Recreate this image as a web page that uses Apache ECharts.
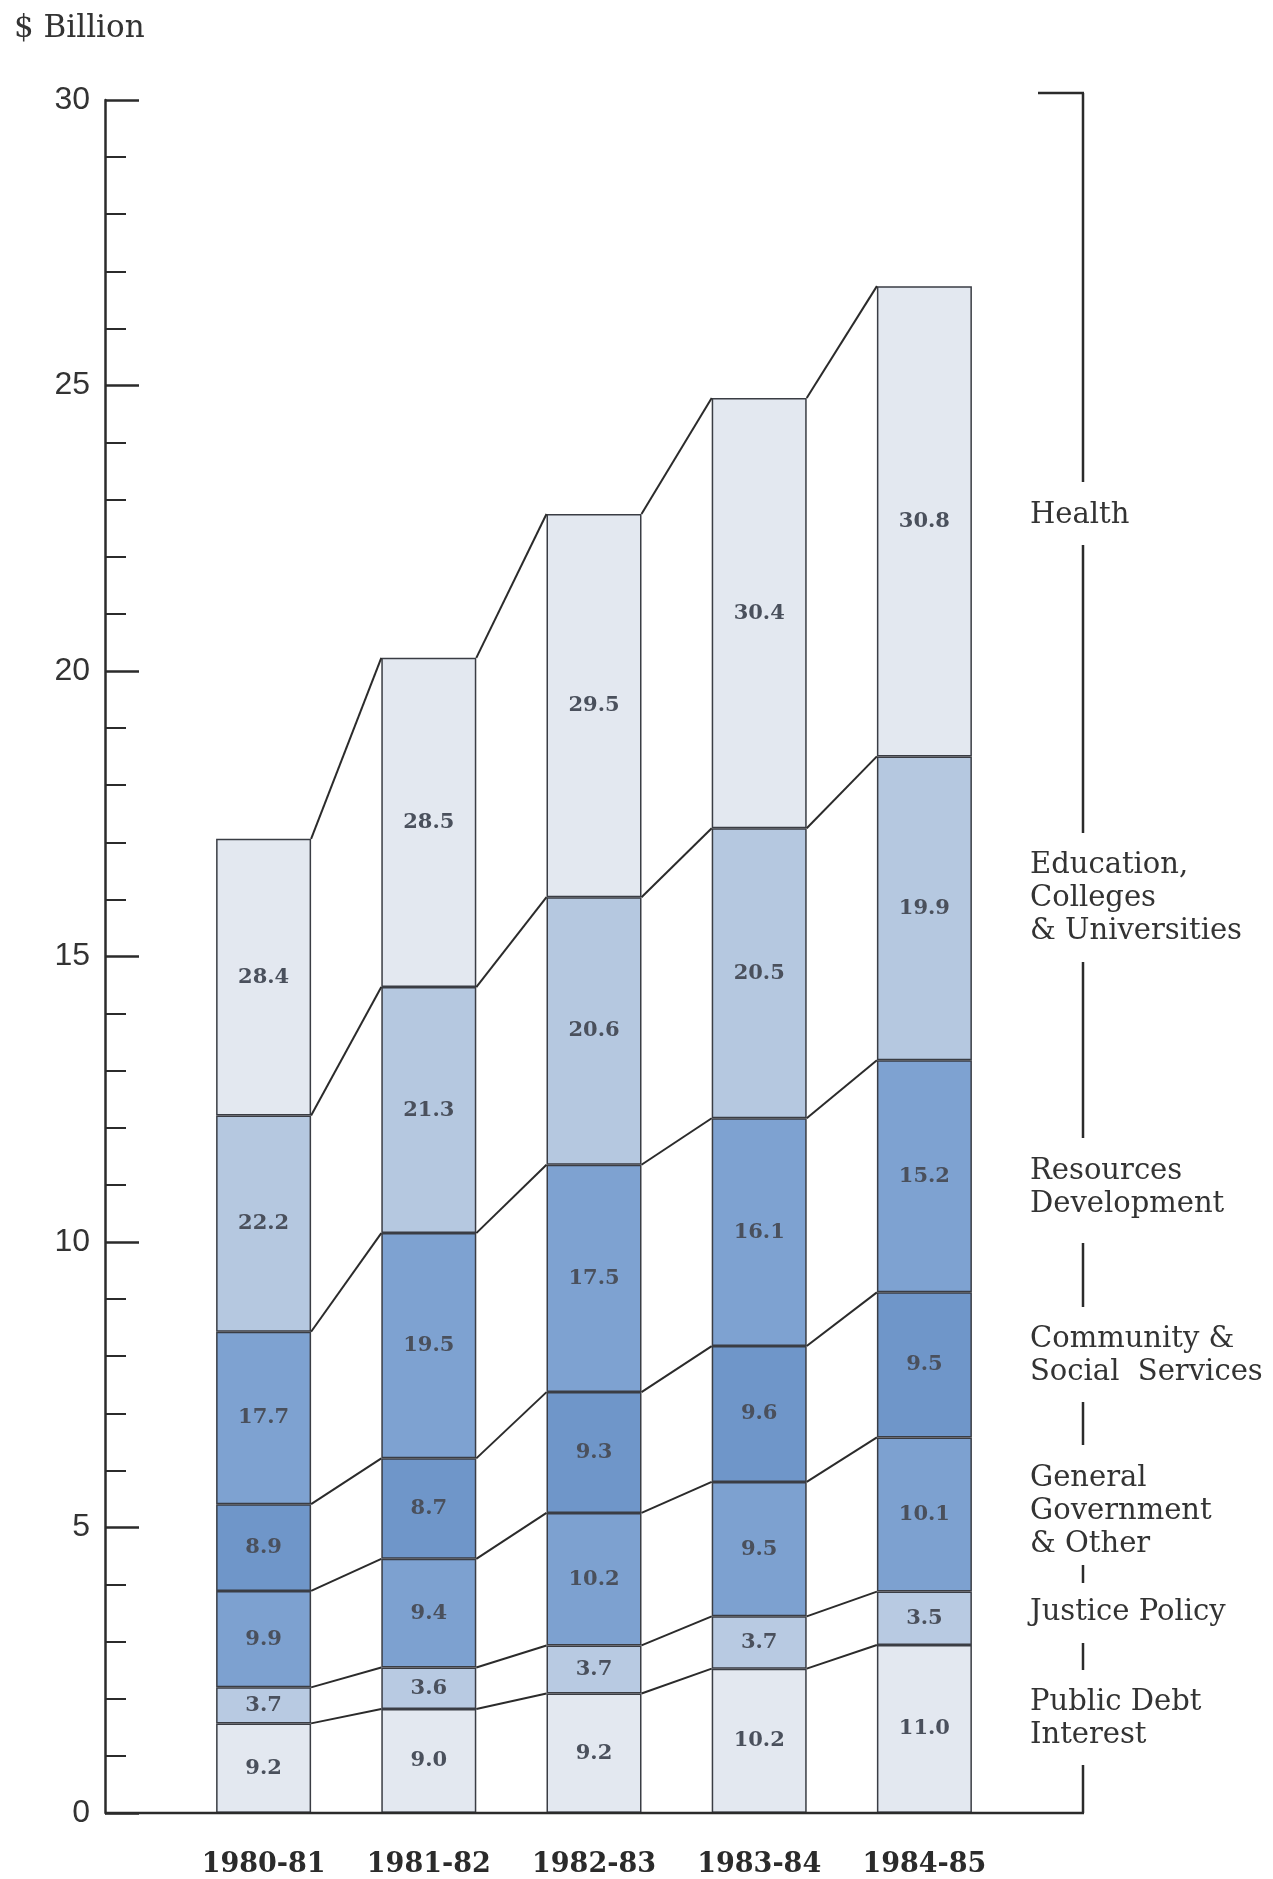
<!DOCTYPE html>
<html>
<head>
<meta charset="utf-8">
<title>Spending by sector, 1980-81 to 1984-85</title>
<script src="https://cdn.jsdelivr.net/npm/echarts@6.0.0/dist/echarts.min.js"></script>
<style>
  html, body { margin: 0; padding: 0; background: #fff; }
  #chart { width: 1273px; height: 1879px; }
</style>
</head>
<body>
<div id="chart"></div>
<script>
  // fiscal years
  var years = ['1980-81', '1981-82', '1982-83', '1983-84', '1984-85'];
  // total height of each bar, $ billion
  var totals = [17.06, 20.23, 22.75, 24.78, 26.74];
  // share of the total in percent, bottom to top of the stack
  var publicDebt = [9.2, 9.0, 9.2, 10.2, 11.0];
  var justice = [3.7, 3.6, 3.7, 3.7, 3.5];
  var generalGov = [9.9, 9.4, 10.2, 9.5, 10.1];
  var community = [8.9, 8.7, 9.3, 9.6, 9.5];
  var resources = [17.7, 19.5, 17.5, 16.1, 15.2];
  var education = [22.2, 21.3, 20.6, 20.5, 19.9];
  var health = [28.4, 28.5, 29.5, 30.4, 30.8];
  // y axis tick labels
  var yTicks = [0, 5, 10, 15, 20, 25, 30];

  var layers = [
    { name: 'Public Debt Interest', pct: publicDebt, color: '#e3e8f0' },
    { name: 'Justice Policy', pct: justice, color: '#b8cae2' },
    { name: 'General Government & Other', pct: generalGov, color: '#7da1d0' },
    { name: 'Community & Social Services', pct: community, color: '#6f96c9' },
    { name: 'Resources Development', pct: resources, color: '#7ea2d1' },
    { name: 'Education, Colleges & Universities', pct: education, color: '#b5c8e0' },
    { name: 'Health', pct: health, color: '#e3e8f0' }
  ];

  var barWidth = 95;
  var ink = '#2b2b2b';

  // segment heights in $ billion and the running top of each segment
  var tops = [];
  layers.forEach(function (layer, k) {
    layer.values = layer.pct.map(function (p, i) { return p * totals[i] / 100; });
    tops.push(layer.values.map(function (v, i) { return (k ? tops[k - 1][i] : 0) + v; }));
  });

  var barSeries = layers.map(function (layer) {
    return {
      name: layer.name,
      type: 'bar',
      stack: 'total',
      barWidth: barWidth,
      data: layer.values,
      itemStyle: { color: layer.color, borderColor: '#3a3d44', borderWidth: 1.5 },
      label: {
        show: true,
        position: 'inside',
        formatter: function (p) { return layer.pct[p.dataIndex].toFixed(1); },
        color: '#4a505c',
        fontFamily: 'DejaVu Serif',
        fontWeight: 'bold',
        fontSize: 21
      },
      emphasis: { disabled: true },
      silent: true
    };
  });

  // slanted lines joining each boundary of one bar to the same boundary of the next
  function renderConnectors(params, api) {
    var i = params.dataIndex;
    var half = barWidth / 2;
    var children = [];
    for (var k = 0; k < tops.length; k++) {
      var a = api.coord([i, tops[k][i]]);
      var b = api.coord([i + 1, tops[k][i + 1]]);
      children.push({
        type: 'line',
        shape: { x1: a[0] + half, y1: a[1], x2: b[0] - half, y2: b[1] },
        style: { stroke: ink, lineWidth: 2 }
      });
    }
    return { type: 'group', children: children };
  }

  // right-hand bracket: vertical pieces between the category names
  var bracketX = 1083;
  var bracketPieces = [[93, 482], [545, 833], [962, 1138], [1243, 1307], [1402, 1445], [1565, 1583], [1643, 1670], [1765, 1813]];
  var sideLabels = [
    { text: 'Health', y: 515 },
    { text: 'Education,\nColleges\n& Universities', y: 898 },
    { text: 'Resources\nDevelopment', y: 1188 },
    { text: 'Community &\nSocial  Services', y: 1356 },
    { text: 'General\nGovernment\n& Other', y: 1511 },
    { text: 'Justice Policy', y: 1612 },
    { text: 'Public Debt\nInterest', y: 1719 }
  ];

  var graphics = [
    {
      type: 'text',
      left: 14, top: 13,
      style: { text: '$ Billion', font: '31px "DejaVu Serif"', fill: '#333' }
    },
    // baseline from the y axis to the bracket
    { type: 'line', shape: { x1: 105, y1: 1813, x2: bracketX + 1, y2: 1813 }, style: { stroke: ink, lineWidth: 2.5 }, z: 10 },
    { type: 'line', shape: { x1: 1038, y1: 93, x2: bracketX + 1, y2: 93 }, style: { stroke: ink, lineWidth: 2.5 } }
  ];
  bracketPieces.forEach(function (p) {
    graphics.push({ type: 'line', shape: { x1: bracketX, y1: p[0], x2: bracketX, y2: p[1] }, style: { stroke: ink, lineWidth: 2.5 } });
  });
  sideLabels.forEach(function (l) {
    graphics.push({
      type: 'text',
      style: {
        text: l.text, x: 1030, y: l.y,
        font: '29px "DejaVu Serif"', lineHeight: 33,
        fill: '#333', align: 'left', verticalAlign: 'middle'
      }
    });
  });

  var myChart = echarts.init(document.getElementById('chart'));
  myChart.setOption({
    animation: false,
    backgroundColor: '#fff',
    grid: { left: 181, right: 266, top: 100, bottom: 66, outerBoundsMode: 'none' },
    xAxis: {
      type: 'category',
      data: years,
      axisLine: { show: false },
      axisTick: { show: false },
      axisLabel: {
        margin: 38,
        color: '#2b2b2b',
        fontFamily: 'DejaVu Serif',
        fontWeight: 'bold',
        fontSize: 27
      }
    },
    yAxis: {
      type: 'value',
      min: yTicks[0],
      max: yTicks[yTicks.length - 1],
      interval: yTicks[1] - yTicks[0],
      offset: 76,
      axisLine: { show: true, lineStyle: { color: ink, width: 2.5 } },
      axisTick: { show: true, inside: true, length: 34, lineStyle: { color: ink, width: 2.5 } },
      minorTick: { show: true, splitNumber: 5, length: 21, lineStyle: { color: ink, width: 2 } },
      splitLine: { show: false },
      axisLabel: {
        margin: 15,
        color: '#333',
        fontFamily: 'Liberation Sans',
        fontSize: 32
      }
    },
    series: barSeries.concat([{
      type: 'custom',
      renderItem: renderConnectors,
      data: years.slice(0, years.length - 1).map(function (y, i) { return [i, 0]; }),
      silent: true,
      z: 5
    }]),
    graphic: graphics
  });
</script>
</body>
</html>
